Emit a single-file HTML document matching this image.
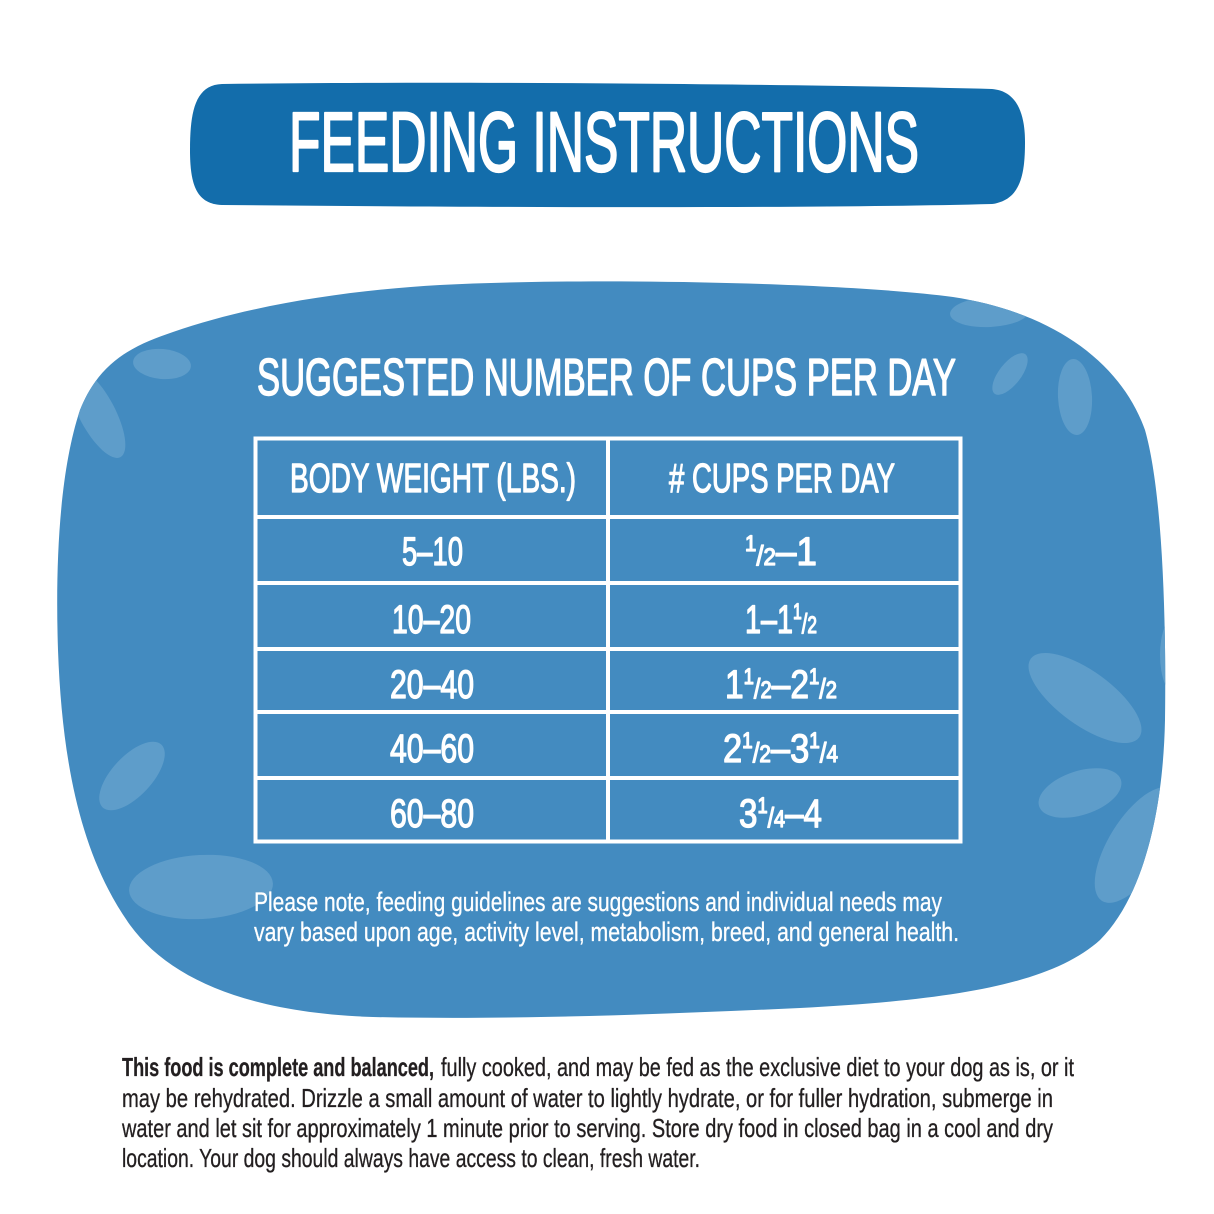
<!DOCTYPE html>
<html>
<head>
<meta charset="utf-8">
<style>
  html, body { margin: 0; padding: 0; background: #ffffff; }
  body { width: 1214px; height: 1214px; overflow: hidden; }
  svg { display: block; }
  text { font-family: "Liberation Sans", "DejaVu Sans", sans-serif; }
</style>
</head>
<body>
<svg width="1214" height="1214" viewBox="0 0 1214 1214" xmlns="http://www.w3.org/2000/svg">
  <defs>
    <clipPath id="blobclip">
      <path d="M 173,332 C 250,305 350,290 440,285 C 600,277 850,283 953,297 C 1050,312 1120,360 1145,430 C 1165,500 1166,650 1165,720 C 1163,820 1140,900 1100,940 C 1050,985 950,1000 800,1008 C 650,1015 500,1020 373,1017 C 250,1013 170,980 130,925 C 80,855 62,760 58,650 C 55,560 60,470 80,410 C 100,360 135,345 173,332 Z"/>
    </clipPath>
  </defs>

  <rect x="0" y="0" width="1214" height="1214" fill="#ffffff"/>

  <!-- Title banner -->
  <path d="M 222,84 C 450,81 800,84 992,89 C 1016,91 1025,112 1025,142 C 1025,176 1020,200 992,204 C 800,209 450,207 222,205 C 197,204 190,186 190,150 C 190,112 195,85 222,84 Z" fill="#136DAB"/>
  <text x="289" y="171" font-size="84" fill="#ffffff" stroke="#ffffff" stroke-width="2.2" stroke-linejoin="round" textLength="630" lengthAdjust="spacingAndGlyphs">FEEDING INSTRUCTIONS</text>

  <!-- Blob -->
  <path d="M 173,332 C 250,305 350,290 440,285 C 600,277 850,283 953,297 C 1050,312 1120,360 1145,430 C 1165,500 1166,650 1165,720 C 1163,820 1140,900 1100,940 C 1050,985 950,1000 800,1008 C 650,1015 500,1020 373,1017 C 250,1013 170,980 130,925 C 80,855 62,760 58,650 C 55,560 60,470 80,410 C 100,360 135,345 173,332 Z" fill="#438BC0"/>

  <!-- Spots -->
  <g clip-path="url(#blobclip)" fill="#5E9DCA">
    <ellipse cx="162" cy="364" rx="29" ry="15" transform="rotate(5 162 364)"/>
    <ellipse cx="97" cy="413" rx="50" ry="18" transform="rotate(62 97 413)"/>
    <ellipse cx="990" cy="312" rx="40" ry="15" transform="rotate(-3 990 312)"/>
    <ellipse cx="1010" cy="374" rx="25" ry="11" transform="rotate(-52 1010 374)"/>
    <ellipse cx="1075" cy="397" rx="17" ry="38" transform="rotate(-3 1075 397)"/>
    <ellipse cx="1085" cy="698" rx="67" ry="27" transform="rotate(36 1085 698)"/>
    <ellipse cx="1080" cy="793" rx="43" ry="22" transform="rotate(-18 1080 793)"/>
    <ellipse cx="1137" cy="845" rx="66" ry="28" transform="rotate(-58 1137 845)"/>
    <ellipse cx="1176" cy="655" rx="16" ry="40"/>
    <ellipse cx="132" cy="776" rx="43" ry="20" transform="rotate(-47 132 776)"/>
    <ellipse cx="201" cy="887" rx="72" ry="32" transform="rotate(-3 201 887)"/>
  </g>

  <!-- Heading -->
  <text x="257" y="395" font-size="52" fill="#ffffff" stroke="#ffffff" stroke-width="1.5" stroke-linejoin="round" textLength="699" lengthAdjust="spacingAndGlyphs">SUGGESTED NUMBER OF CUPS PER DAY</text>

  <!-- Table -->
  <g stroke="#ffffff" fill="none">
    <rect x="255.5" y="438.5" width="705" height="403" stroke-width="4"/>
    <line x1="608" y1="437" x2="608" y2="843" stroke-width="4"/>
    <line x1="254" y1="517" x2="962" y2="517" stroke-width="4"/>
    <line x1="254" y1="583" x2="962" y2="583" stroke-width="4"/>
    <line x1="254" y1="649" x2="962" y2="649" stroke-width="4"/>
    <line x1="254" y1="712" x2="962" y2="712" stroke-width="4"/>
    <line x1="254" y1="778" x2="962" y2="778" stroke-width="4"/>
  </g>

  <g fill="#ffffff" stroke="#ffffff" stroke-width="1.3" stroke-linejoin="round">
    <text x="290" y="492" font-size="41" textLength="286" lengthAdjust="spacingAndGlyphs">BODY WEIGHT (LBS.)</text>
    <text x="669" y="492" font-size="41" textLength="226" lengthAdjust="spacingAndGlyphs"># CUPS PER DAY</text>

    <text x="402" y="565" font-size="40" textLength="61" lengthAdjust="spacingAndGlyphs">5–10</text>
    <text x="392" y="633" font-size="40" textLength="79" lengthAdjust="spacingAndGlyphs">10–20</text>
    <text x="390" y="698" font-size="40" textLength="84" lengthAdjust="spacingAndGlyphs">20–40</text>
    <text x="390" y="762" font-size="40" textLength="84" lengthAdjust="spacingAndGlyphs">40–60</text>
    <text x="390" y="827" font-size="40" textLength="84" lengthAdjust="spacingAndGlyphs">60–80</text>

    <!-- 1/2 - 1 -->
    <text x="745" y="565" font-size="40" textLength="72" lengthAdjust="spacingAndGlyphs"><tspan font-size="22" y="551">1</tspan><tspan font-size="28" y="565">/</tspan><tspan font-size="24" y="565">2</tspan><tspan y="565">–1</tspan></text>
    <!-- 1 - 1 1/2 -->
    <text x="745" y="633" font-size="40" textLength="72" lengthAdjust="spacingAndGlyphs"><tspan y="633">1–1</tspan><tspan font-size="22" y="619">1</tspan><tspan font-size="28" y="633">/</tspan><tspan font-size="24" y="633">2</tspan></text>
    <!-- 1 1/2 - 2 1/2 -->
    <text x="725" y="698" font-size="40" textLength="112" lengthAdjust="spacingAndGlyphs"><tspan y="698">1</tspan><tspan font-size="22" y="684">1</tspan><tspan font-size="28" y="698">/</tspan><tspan font-size="24" y="698">2</tspan><tspan y="698">–2</tspan><tspan font-size="22" y="684">1</tspan><tspan font-size="28" y="698">/</tspan><tspan font-size="24" y="698">2</tspan></text>
    <!-- 2 1/2 - 3 1/4 -->
    <text x="723" y="762" font-size="40" textLength="115" lengthAdjust="spacingAndGlyphs"><tspan y="762">2</tspan><tspan font-size="22" y="748">1</tspan><tspan font-size="28" y="762">/</tspan><tspan font-size="24" y="762">2</tspan><tspan y="762">–3</tspan><tspan font-size="22" y="748">1</tspan><tspan font-size="28" y="762">/</tspan><tspan font-size="24" y="762">4</tspan></text>
    <!-- 3 1/4 - 4 -->
    <text x="739" y="827" font-size="40" textLength="83" lengthAdjust="spacingAndGlyphs"><tspan y="827">3</tspan><tspan font-size="22" y="813">1</tspan><tspan font-size="28" y="827">/</tspan><tspan font-size="24" y="827">4</tspan><tspan y="827">–4</tspan></text>
  </g>

  <!-- Note -->
  <g fill="#ffffff" font-size="27" stroke="#ffffff" stroke-width="0.3">
    <text x="254" y="911" textLength="688" lengthAdjust="spacingAndGlyphs">Please note, feeding guidelines are suggestions and individual needs may</text>
    <text x="254" y="941" textLength="705" lengthAdjust="spacingAndGlyphs">vary based upon age, activity level, metabolism, breed, and general health.</text>
  </g>

  <!-- Bottom paragraph -->
  <g fill="#231F20" font-size="26" stroke="#231F20" stroke-width="0.3">
    <text x="122" y="1076" font-weight="bold" textLength="312" lengthAdjust="spacingAndGlyphs">This food is complete and balanced,</text>
    <text x="441" y="1076" textLength="633" lengthAdjust="spacingAndGlyphs">fully cooked, and may be fed as the exclusive diet to your dog as is, or it</text>
    <text x="122" y="1107" textLength="931" lengthAdjust="spacingAndGlyphs">may be rehydrated. Drizzle a small amount of water to lightly hydrate, or for fuller hydration, submerge in</text>
    <text x="122" y="1137" textLength="931" lengthAdjust="spacingAndGlyphs">water and let sit for approximately 1 minute prior to serving. Store dry food in closed bag in a cool and dry</text>
    <text x="122" y="1167" textLength="578" lengthAdjust="spacingAndGlyphs">location. Your dog should always have access to clean, fresh water.</text>
  </g>
</svg>
</body>
</html>
